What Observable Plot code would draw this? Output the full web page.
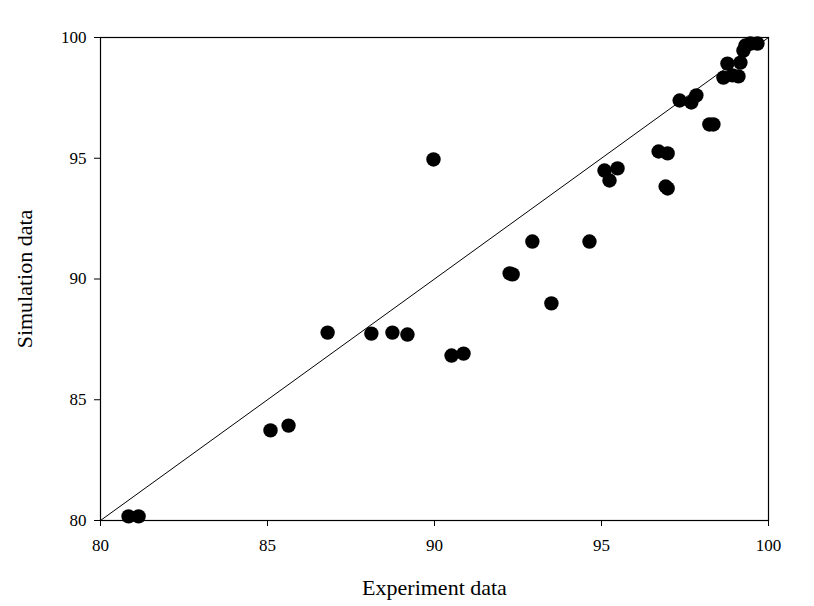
<!DOCTYPE html>
<html>
<head>
<meta charset="utf-8">
<script src="https://cdn.jsdelivr.net/npm/d3@7"></script>
<script src="https://cdn.jsdelivr.net/npm/@observablehq/plot@0.6"></script>
<style>
  html, body { margin: 0; padding: 0; background: #fff; }
  #chart svg { font-family: "Liberation Serif", "Times New Roman", serif; }
</style>
</head>
<body>
<div id="chart"></div>
<script>
const experiment = [80.84, 81.14, 85.09, 85.63, 86.80, 88.11, 88.74, 89.19, 89.97, 90.51, 90.87,
  92.25, 92.34, 92.93, 93.50, 94.64, 95.09, 95.24, 95.48, 96.71, 96.98, 96.92, 96.98,
  97.34, 97.69, 97.84, 98.23, 98.35, 98.65, 98.77, 98.92, 99.10, 99.16, 99.25, 99.31, 99.46, 99.67];
const simulation = [80.17, 80.17, 83.73, 83.93, 87.78, 87.74, 87.78, 87.70, 94.95, 86.83, 86.91,
  90.23, 90.19, 91.55, 88.99, 91.55, 94.49, 94.08, 94.58, 95.28, 95.20, 93.83, 93.75,
  97.39, 97.31, 97.60, 96.40, 96.40, 98.34, 98.92, 98.43, 98.39, 98.96, 99.46, 99.67, 99.75, 99.75];
const ticks = [80, 85, 90, 95, 100];
const identity = [{x: 80, y: 80}, {x: 100, y: 100}];

const points = experiment.map((x, i) => ({x, y: simulation[i]}));

const chart = Plot.plot({
  width: 814,
  height: 606,
  marginLeft: 100,
  marginRight: 46,
  marginTop: 37,
  marginBottom: 86,
  style: {fontFamily: "Liberation Serif, Times New Roman, serif", fontSize: "17px", color: "#000", background: "#fff"},
  x: {domain: [80, 100], ticks: ticks, tickSize: 6, tickPadding: 12, label: "Experiment data", labelAnchor: "center", labelArrow: "none", labelOffset: 74},
  y: {domain: [80, 100], ticks: ticks, tickSize: 6, tickPadding: 8, label: "Simulation data", labelAnchor: "center", labelArrow: "none", labelOffset: 84},
  marks: [
    Plot.frame({stroke: "#000", strokeWidth: 1.2}),
    Plot.line(identity, {x: "x", y: "y", stroke: "#000", strokeWidth: 1}),
    Plot.dot(points, {x: "x", y: "y", r: 7.2, fill: "#000", stroke: "none"})
  ]
});
document.getElementById("chart").appendChild(chart);
chart.querySelectorAll("g[aria-label='x-axis label'] text, g[aria-label='y-axis label'] text").forEach(t => t.style.fontSize = "22px");
</script>
</body>
</html>
